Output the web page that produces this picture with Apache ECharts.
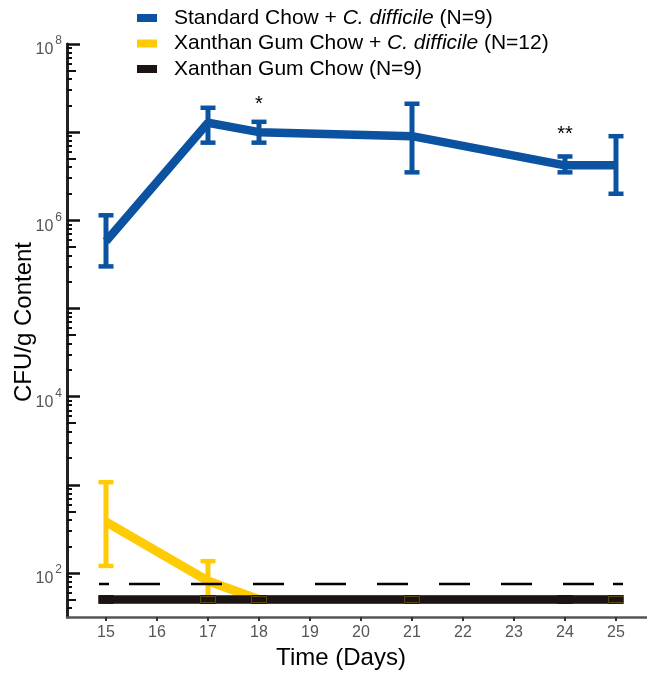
<!DOCTYPE html>
<html><head><meta charset="utf-8">
<script src="https://cdn.jsdelivr.net/npm/echarts@6/dist/echarts.min.js"></script>
<style>html,body{margin:0;padding:0;background:#fff}#c{width:647px;height:675px}</style>
</head><body><div id="c"></div>
<script>
// ---------------- data ----------------
const seriesNames = ['Standard Chow + C. difficile (N=9)', 'Xanthan Gum Chow + C. difficile (N=12)', 'Xanthan Gum Chow (N=9)'];
const blueDays = [15, 17, 18, 21, 24, 25];
const blueMean = [5.8e5, 1.28e7, 1.0e7, 9.0e6, 4.2e6, 4.2e6];
const blueUpper = [1.14e6, 1.89e7, 1.31e7, 2.1e7, 5.3e6, 9.0e6];
const blueLower = [3.0e5, 7.6e6, 7.6e6, 3.5e6, 3.5e6, 2.0e6];
const yellowDays = [15, 17, 18, 21, 25];
const yellowMean = [380, 81, 50, 50, 50];
const yellowUpper = [1070, 136, 50, 50, 50];
const yellowLower = [120, 50, 50, 50, 50];
const blackDays = [15, 17, 18, 21, 24, 25];
const blackMean = [50, 50, 50, 50, 50, 50];
const detectionLimit = 75;
const sigDays = [18, 24];
const sigLabels = ['*', '**'];
const sigAt = [2.3e7, 1.05e7];
const xTicks = [15, 16, 17, 18, 19, 20, 21, 22, 23, 24, 25];
const yLabelExps = [2, 4, 6, 8];
const yDecadeExps = [2, 3, 4, 5, 6, 7, 8];
const yMinExp = 1.5, yMaxExp = 8;

// ---------------- derived ----------------
const L = Math.log10;
const mediumTicks = [], smallTicks = [];
for (let n = 1; n <= 7; n++) {
  for (let k = 2; k <= 9; k++) {
    const v = L(k) + n;
    if (v < yMinExp || v > yMaxExp) continue;
    (k === 5 ? mediumTicks : smallTicks).push(v);
  }
}
const C_BLUE = '#0b52a0', C_YEL = '#ffcb05', C_BLK = '#1c1412';
const FONT = '"Liberation Sans", Arial, sans-serif';

function lineData(d, m) { return d.map((x, i) => [x, L(m[i])]); }
function errData(d, lo, hi) { return d.map((x, i) => [x, L(lo[i]), L(hi[i])]); }

function errRender(color, capW, capH, stemW) {
  return function (params, api) {
    const x = api.value(0);
    const lo = api.coord([x, api.value(1)]);
    const hi = api.coord([x, api.value(2)]);
    const cx = lo[0];
    const ch = [];
    if (lo[1] - hi[1] > 0.5) {
      ch.push({ type: 'rect', shape: { x: cx - stemW / 2, y: hi[1], width: stemW, height: lo[1] - hi[1] }, style: { fill: color } });
    }
    ch.push({ type: 'rect', shape: { x: cx - capW / 2, y: hi[1] - capH / 2, width: capW, height: capH }, style: { fill: color } });
    ch.push({ type: 'rect', shape: { x: cx - capW / 2, y: lo[1] - capH / 2, width: capW, height: capH }, style: { fill: color } });
    return { type: 'group', children: ch };
  };
}

const chart = echarts.init(document.getElementById('c'), null, { renderer: 'canvas' });

const hiddenY = (vals, len, w) => ({
  type: 'value', min: yMinExp, max: yMaxExp, position: 'left', offset: 0,
  axisLine: { show: false }, axisLabel: { show: false }, splitLine: { show: false },
  axisTick: { show: true, inside: true, customValues: vals, length: len, lineStyle: { color: '#111', width: w } }
});

chart.setOption({
  animation: false,
  backgroundColor: '#fff',
  textStyle: { fontFamily: FONT },
  grid: { left: 67, right: 0, top: 44, bottom: 57, containLabel: false },
  legend: {
    orient: 'vertical', left: 137, top: 7.5, padding: 0, itemGap: 4.5,
    itemWidth: 20, itemHeight: 8, icon: 'rect',
    data: seriesNames.map((n, i) => ({ name: n, itemStyle: { color: [C_BLUE, C_YEL, C_BLK][i] } })),
    formatter: function (name) {
      const m = name.split('C. difficile');
      if (m.length === 2) return '{n|' + m[0] + '}{i|C. difficile}{n|' + m[1] + '}';
      return '{n|' + name + '}';
    },
    textStyle: {
      padding: [0, 0, 0, 12],
      rich: {
        n: { fontSize: 21, lineHeight: 21, color: '#000', fontFamily: FONT },
        i: { fontSize: 21, lineHeight: 21, color: '#000', fontFamily: FONT, fontStyle: 'italic' }
      }
    }
  },
  xAxis: {
    type: 'value', min: 14.2353, max: 25.608,
    splitLine: { show: false },
    axisLine: { show: true, onZero: false, lineStyle: { color: '#555', width: 2.5 } },
    axisTick: { show: true, customValues: xTicks, length: 4, lineStyle: { color: '#333', width: 2 } },
    axisLabel: { customValues: xTicks, color: '#555', fontSize: 16, margin: 8, fontFamily: FONT },
    name: 'Time (Days)', nameLocation: 'middle', nameGap: 29, nameMoveOverlap: false,
    nameTextStyle: { fontSize: 24, color: '#000', fontFamily: FONT, padding: [0, 32, 0, 0] }
  },
  yAxis: [
    {
      type: 'value', min: yMinExp, max: yMaxExp, position: 'left', offset: 0,
      splitLine: { show: false },
      axisLine: { show: true, onZero: false, lineStyle: { color: '#222', width: 3 } },
      axisTick: { show: true, inside: true, customValues: yDecadeExps, length: 13, lineStyle: { color: '#111', width: 2.5 } },
      axisLabel: {
        customValues: yLabelExps, margin: 5,
        formatter: v => '{b|10}{s|' + v + '}',
        rich: {
          b: { fontSize: 16, lineHeight: 16, color: '#555', fontFamily: FONT, padding: [12, 0, 0, 0] },
          s: { fontSize: 12, lineHeight: 12, color: '#555', fontFamily: FONT, padding: [5, 0, 11, 2] }
        }
      },
      name: 'CFU/g Content', nameLocation: 'middle', nameGap: 31, nameMoveOverlap: false,
      nameTextStyle: { fontSize: 24, color: '#000', fontFamily: FONT, padding: [0, 0, 0, 17] }
    },
    hiddenY(mediumTicks, 9, 2),
    hiddenY(smallTicks, 5, 2)
  ],
  series: [
    { name: seriesNames[1], type: 'line', data: lineData(yellowDays, yellowMean), symbol: 'none', color: C_YEL,
      lineStyle: { color: C_YEL, width: 9 }, z: 2 },
    { name: seriesNames[1], type: 'custom', data: errData(yellowDays, yellowLower, yellowUpper),
      encode: { x: 0, y: [1, 2] }, renderItem: errRender(C_YEL, 15, 4.5, 5), z: 2 },
    { name: seriesNames[2], type: 'line', data: lineData(blackDays, blackMean), symbol: 'none', color: C_BLK,
      lineStyle: { color: C_BLK, width: 8.6 }, z: 3 },
    { name: seriesNames[2], type: 'custom', data: errData(blackDays, blackMean, blackMean),
      encode: { x: 0, y: [1, 2] }, renderItem: errRender(C_BLK, 15, 8.6, 5), z: 3 },
    { type: 'custom', data: errData(yellowDays.slice(1), yellowLower.slice(1), yellowLower.slice(1)),
      encode: { x: 0, y: [1, 2] }, silent: true, z: 4,
      renderItem: function (params, api) {
        const p = api.coord([api.value(0), api.value(1)]);
        return { type: 'rect', shape: { x: p[0] - 7.5, y: p[1] - 3, width: 15, height: 6 },
          style: { fill: null, stroke: '#5c4c16', lineWidth: 1 } };
      } },
    { type: 'custom', data: [[blueDays[0], blueDays[blueDays.length - 1], L(detectionLimit)]],
      encode: { x: [0, 1], y: 2 }, silent: true, z: 4,
      renderItem: function (params, api) {
        const a = api.coord([api.value(0), api.value(2)]);
        const b = api.coord([api.value(1), api.value(2)]);
        return { type: 'line', shape: { x1: a[0] - 7, y1: a[1], x2: b[0] + 7, y2: b[1] },
          style: { stroke: '#000', lineWidth: 2.5, lineDash: [10, 20, 31, 31, 31, 31, 31, 31, 31, 31, 31, 31, 31, 31, 31, 31, 31, 19, 10] } };
      } },
    { name: seriesNames[0], type: 'line', data: lineData(blueDays, blueMean), symbol: 'none', color: C_BLUE,
      lineStyle: { color: C_BLUE, width: 8.5 }, z: 5 },
    { name: seriesNames[0], type: 'custom', data: errData(blueDays, blueLower, blueUpper),
      encode: { x: 0, y: [1, 2] }, renderItem: errRender(C_BLUE, 15, 4.5, 5), z: 5 },
    { type: 'custom', data: sigDays.map((d, i) => [d, L(sigAt[i]), i]),
      encode: { x: 0, y: 1 }, silent: true, z: 6,
      renderItem: function (params, api) {
        const p = api.coord([api.value(0), api.value(1)]);
        return { type: 'text', x: p[0], y: p[1] + 4,
          style: { text: sigLabels[api.value(2)], fontSize: 20, fill: '#000', fontFamily: FONT, align: 'center', verticalAlign: 'middle' } };
      } }
  ]
});
</script></body></html>
